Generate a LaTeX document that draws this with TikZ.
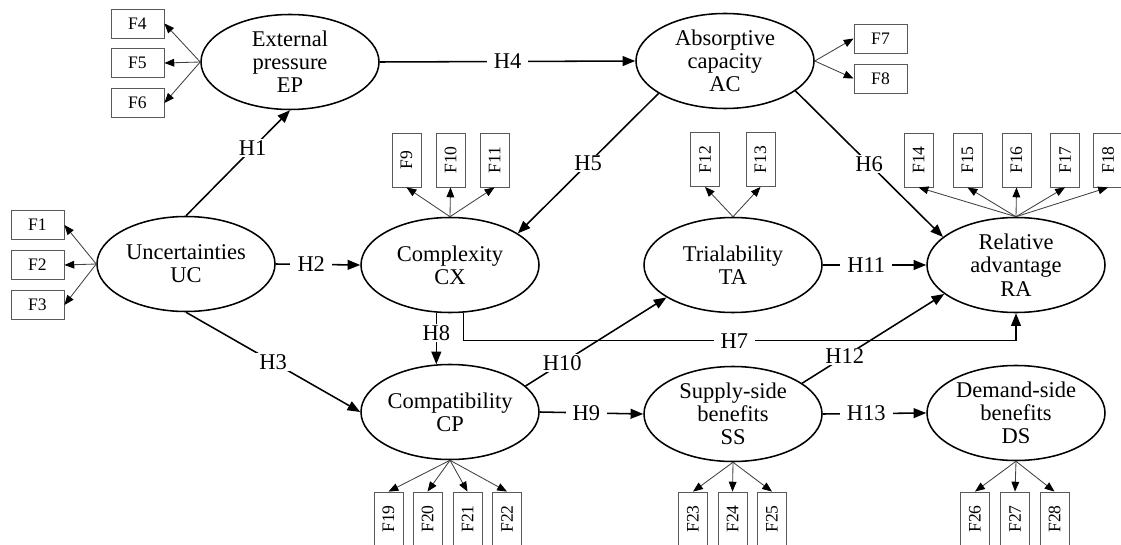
\documentclass[tikz,border=0pt]{standalone}
\usepackage{fontspec}
\setmainfont{Liberation Serif}
\usetikzlibrary{arrows.meta,shapes.geometric}

\tikzset{
  latent/.style={draw, ellipse, line width=1.1pt, minimum width=44.5mm, minimum height=23.75mm,
    inner sep=0pt, align=center, font=\fontsize{16}{16.5}\selectfont},
  item/.style={draw=black!65, line width=0.6pt, minimum width=13.25mm, minimum height=7.25mm,
    inner sep=0pt, font=\fontsize{12.5}{13}\selectfont},
  % turned boxes: west is the lower side, east the upper side
  itemv/.style={item, minimum width=13.5mm, minimum height=7.25mm, rotate=90},
  hyp/.style={line width=1.1pt, -{Triangle[length=9pt,width=7pt]}},
  ind/.style={draw=black!75, line width=0.6pt, -{Triangle[length=7pt,width=5.5pt,color=black]}},
  lab/.style={fill=white, inner xsep=5pt, inner ysep=1pt, font=\fontsize{16}{16.5}\selectfont}
}

\begin{document}
\begin{tikzpicture}[x=0.25mm,y=-0.25mm]
        \useasboundingbox (0,0) rectangle (1121,545);
        % Constructs
        \node[latent] (UC) at (186,264) {Uncertainties\\UC};
        \node[latent] (EP) at (290,62) {External\\pressure\\EP};
        \node[latent] (AC) at (725,61) {Absorptive\\capacity\\AC};
        \node[latent] (CX) at (450,265) {Complexity\\CX};
        \node[latent] (TA) at (733,265) {Trialability\\TA};
        \node[latent] (RA) at (1016,265) {Relative\\advantage\\RA};
        \node[latent] (CP) at (450,412) {Compatibility\\CP};
        \node[latent] (SS) at (733,414) {Supply-side\\benefits\\SS};
        \node[latent] (DS) at (1016,413) {Demand-side\\benefits\\DS};

        % Items on the left and top
        \node[item] (F1) at (37.5,225) {F1};
        \node[item] (F2) at (37.5,265) {F2};
        \node[item] (F3) at (37.5,305) {F3};
        \node[item] (F4) at (137.5,23.5) {F4};
        \node[item] (F5) at (137.5,63) {F5};
        \node[item] (F6) at (137.5,103) {F6};
        \node[item] (F7) at (880.5,38.5) {F7};
        \node[item] (F8) at (880.5,78.5) {F8};
        \node[itemv] (F9) at (406.5,160) {F9};
        \node[itemv] (F10) at (450.5,160) {F10};
        \node[itemv] (F11) at (494.5,160) {F11};
        \node[itemv] (F12) at (705,159.5) {F12};
        \node[itemv] (F13) at (760.5,159.5) {F13};
        \node[itemv] (F14) at (918.5,160) {F14};
        \node[itemv] (F15) at (967.5,160) {F15};
        \node[itemv] (F16) at (1016.5,160) {F16};
        \node[itemv] (F17) at (1065,160) {F17};
        \node[itemv] (F18) at (1108,160) {F18};
        % Items at the bottom
        \node[itemv] (F19) at (388.5,519) {F19};
        \node[itemv] (F20) at (427.5,519) {F20};
        \node[itemv] (F21) at (467.5,519) {F21};
        \node[itemv] (F22) at (507,519) {F22};
        \node[itemv] (F23) at (693,519) {F23};
        \node[itemv] (F24) at (732.5,519) {F24};
        \node[itemv] (F25) at (772,519) {F25};
        \node[itemv] (F26) at (975,519) {F26};
        \node[itemv] (F27) at (1015,519) {F27};
        \node[itemv] (F28) at (1054.5,519) {F28};

        % Loadings
        \draw[ind] (UC.west) -- (F1.east);
        \draw[ind] (UC.west) -- (F2.east);
        \draw[ind] (UC.west) -- (F3.east);
        \draw[ind] (EP.west) -- (F4.east);
        \draw[ind] (EP.west) -- (F5.east);
        \draw[ind] (EP.west) -- (F6.east);
        \draw[ind] (AC.east) -- (F7.west);
        \draw[ind] (AC.east) -- (F8.west);
        \draw[ind] (CX.north) -- (F9.west);
        \draw[ind] (CX.north) -- (F10.west);
        \draw[ind] (CX.north) -- (F11.west);
        \draw[ind] (TA.north) -- (F12.west);
        \draw[ind] (TA.north) -- (F13.west);
        \draw[ind] (RA.north) -- (F14.west);
        \draw[ind] (RA.north) -- (F15.west);
        \draw[ind] (RA.north) -- (F16.west);
        \draw[ind] (RA.north) -- (F17.west);
        \draw[ind] (RA.north) -- (F18.west);
        \draw[ind] (CP.south) -- (F19.east);
        \draw[ind] (CP.south) -- (F20.east);
        \draw[ind] (CP.south) -- (F21.east);
        \draw[ind] (CP.south) -- (F22.east);
        \draw[ind] (SS.south) -- (F23.east);
        \draw[ind] (SS.south) -- (F24.east);
        \draw[ind] (SS.south) -- (F25.east);
        \draw[ind] (DS.south) -- (F26.east);
        \draw[ind] (DS.south) -- (F27.east);
        \draw[ind] (DS.south) -- (F28.east);

        % Hypotheses
        \draw[hyp] (UC.north) -- node[lab,pos=0.64] {H1} (EP.south);
        \draw[hyp] (UC.east) -- node[lab,pos=0.42] {H2} (CX.west);
        \draw[hyp] (UC.south) -- node[lab,pos=0.5] {H3} (CP.west);
        \draw[hyp] (EP.east) -- node[lab] {H4} (AC.west);
        \draw[hyp] (AC.206) -- node[lab] {H5} (CX.25);
        \draw[hyp] (AC.-23) -- node[lab] {H6} (RA.159);
        \draw[hyp] (CX.-74) -- ++(0,28) -| node[lab,pos=0.245] {H7} (RA.south);
        \draw[hyp] (CX.-106) -- node[lab,pos=0.4] {H8} (CP.106);
        \draw[hyp] (CP.east) -- node[lab,pos=0.45] {H9} (SS.west);
        \draw[hyp] (CP.19) -- node[lab,pos=0.26] {H10} (TA.206);
        \draw[hyp] (TA.east) -- node[lab,pos=0.42] {H11} (RA.west);
        \draw[hyp] (SS.24) -- node[lab,pos=0.3] {H12} (RA.202);
        \draw[hyp] (SS.east) -- node[lab,pos=0.42] {H13} (DS.west);
\end{tikzpicture}
\end{document}
